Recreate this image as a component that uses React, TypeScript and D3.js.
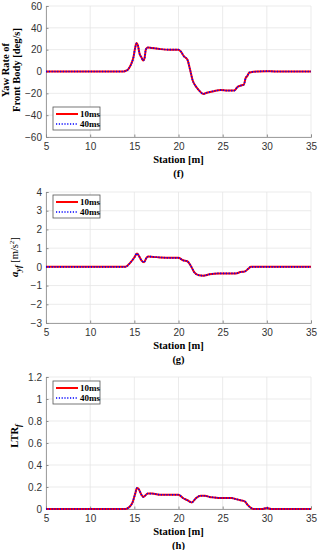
import React, { useRef, useEffect } from "react";
import * as d3 from "d3";

// Station [m] samples for each panel
const yawStation = [5, 13.8, 14, 14.3, 14.6, 14.9, 15.1, 15.25, 15.4, 15.6, 15.8, 16.0, 16.15, 16.3, 16.5, 17, 17.5, 18, 19, 20, 20.3, 20.6, 21, 21.3, 21.6, 22, 22.4, 22.8, 23.2, 24, 24.8, 25.5, 26.3, 26.7, 27, 27.4, 27.6, 27.8, 28, 28.3, 29, 30, 31, 35];
const yaw10 = [0, 0, 0.5, 2, 6, 13, 22, 26, 24, 16, 13, 10, 12, 20, 22, 21.5, 21, 20.5, 20, 20, 18, 14, 11, 2, -8, -14, -18, -20.5, -19.5, -18, -17, -17.5, -17.5, -14, -13, -12, -6, -4, -1, -0.5, 0, 0.3, 0, 0];
const yaw40 = [0, 0, 0.5, 2, 6, 13, 22, 25.5, 24, 16, 13, 10, 12, 20, 22, 21.5, 21, 20.5, 20, 20, 18, 14, 11, 2, -8, -14, -18, -20.5, -19.5, -18, -17, -17.5, -17.5, -14, -13, -12, -6, -4, -1, -0.5, 0, 0.3, 0, 0];

const accStation = [5, 14, 14.5, 15, 15.3, 15.5, 15.8, 16.1, 16.4, 16.6, 17.5, 19, 20, 20.5, 21, 21.4, 21.8, 22.3, 22.8, 23.5, 24.5, 25.5, 26.5, 27, 27.5, 27.9, 28.2, 30, 35];
const acc10 = [0, 0, 0.2, 0.5, 0.72, 0.6, 0.35, 0.25, 0.5, 0.55, 0.52, 0.48, 0.48, 0.35, 0.3, 0.05, -0.3, -0.45, -0.47, -0.4, -0.35, -0.35, -0.35, -0.28, -0.25, -0.1, 0, 0, 0];
const acc40 = [0, 0, 0.2, 0.5, 0.71, 0.6, 0.35, 0.25, 0.5, 0.55, 0.52, 0.48, 0.48, 0.35, 0.3, 0.05, -0.3, -0.45, -0.47, -0.4, -0.35, -0.35, -0.35, -0.28, -0.25, -0.1, 0, 0, 0];

const ltrStation = [5, 14, 14.3, 14.8, 15.1, 15.3, 15.5, 15.8, 16, 16.2, 16.5, 17, 18, 19, 20, 20.5, 21, 21.5, 22, 22.5, 23, 23.5, 24, 25, 26, 26.5, 27, 27.5, 27.8, 28.2, 28.5, 29.5, 30, 30.5, 35];
const ltr10 = [0, 0, 0.01, 0.06, 0.14, 0.19, 0.18, 0.13, 0.11, 0.12, 0.14, 0.14, 0.13, 0.13, 0.13, 0.1, 0.08, 0.06, 0.1, 0.12, 0.12, 0.11, 0.105, 0.1, 0.1, 0.09, 0.08, 0.07, 0.04, 0.01, 0, 0, 0.01, 0, 0];
const ltr40 = [0, 0, 0.01, 0.06, 0.14, 0.19, 0.18, 0.13, 0.11, 0.12, 0.14, 0.14, 0.13, 0.13, 0.13, 0.1, 0.08, 0.06, 0.1, 0.12, 0.12, 0.11, 0.105, 0.1, 0.1, 0.09, 0.08, 0.07, 0.04, 0.01, 0, 0, 0.01, 0, 0];

const xTicks = [5, 10, 15, 20, 25, 30, 35];
const yawTicks = [-60, -40, -20, 0, 20, 40, 60];
const accTicks = [-3, -2, -1, 0, 1, 2, 3, 4];
const ltrTicks = [0, 0.2, 0.4, 0.6, 0.8, 1, 1.2];
const seriesNames = ["10ms", "40ms"];

const serif = "'Liberation Serif', 'Times New Roman', serif";
const sans = "'Liberation Sans', Arial, sans-serif";

type Panel = {
  top: number;
  bottom: number;
  station: number[];
  s10: number[];
  s40: number[];
  yTicks: number[];
  caption: string;
  legendTop: number;
  yLabel: (g: d3.Selection<SVGTextElement, unknown, null, undefined>) => void;
  yLabelX: number;
  yLabelY: number;
};

const App: React.FC = () => {
  const ref = useRef<SVGSVGElement | null>(null);

  useEffect(() => {
    if (!ref.current) return;
    const svg = d3.select(ref.current);
    svg.selectAll("*").remove();

    const left = 46;
    const right = 311;
    const x = d3.scaleLinear().domain([5, 35]).range([left, right]);

    const panels: Panel[] = [
      {
        top: 6, bottom: 137, station: yawStation, s10: yaw10, s40: yaw40, yTicks: yawTicks,
        caption: "(f)", legendTop: 107, yLabelX: 11, yLabelY: 70,
        yLabel: (t) => {
          t.append("tspan").attr("x", 0).attr("dy", "-0.15em").text("Yaw Rate of");
          t.append("tspan").attr("x", 0).attr("dy", "1.0em").text("Front Body [deg/s]");
        },
      },
      {
        top: 192, bottom: 323, station: accStation, s10: acc10, s40: acc40, yTicks: accTicks,
        caption: "(g)", legendTop: 195, yLabelX: 18, yLabelY: 257,
        yLabel: (t) => {
          t.append("tspan").attr("font-style", "italic").attr("font-weight", "bold").text("a");
          t.append("tspan").attr("font-style", "italic").attr("font-size", 8).attr("dy", 3).text("yf");
          t.append("tspan").attr("dy", -3).attr("font-weight", "normal").text(" [m/s");
          t.append("tspan").attr("font-size", 7).attr("dy", -4).attr("font-weight", "normal").text("2");
          t.append("tspan").attr("dy", 4).attr("font-weight", "normal").text("]");
        },
      },
      {
        top: 377, bottom: 509, station: ltrStation, s10: ltr10, s40: ltr40, yTicks: ltrTicks,
        caption: "(h)", legendTop: 381, yLabelX: 18, yLabelY: 436,
        yLabel: (t) => {
          t.append("tspan").text("LTR");
          t.append("tspan").attr("font-size", 8).attr("font-style", "italic").attr("dy", 3).text("f");
        },
      },
    ];

    panels.forEach((p) => {
      const y = d3
        .scaleLinear()
        .domain([p.yTicks[0], p.yTicks[p.yTicks.length - 1]])
        .range([p.bottom, p.top]);
      const g = svg.append("g");

      // grid
      g.selectAll(".gx").data(xTicks).enter().append("line")
        .attr("x1", (d) => x(d)).attr("x2", (d) => x(d))
        .attr("y1", p.top).attr("y2", p.bottom)
        .attr("stroke", "#e6e6e6").attr("stroke-width", 0.8);
      g.selectAll(".gy").data(p.yTicks).enter().append("line")
        .attr("x1", left).attr("x2", right)
        .attr("y1", (d) => y(d)).attr("y2", (d) => y(d))
        .attr("stroke", "#e6e6e6").attr("stroke-width", 0.8);

      // axes
      const xAxis = g.append("g").attr("transform", `translate(0,${p.bottom})`)
        .call(d3.axisBottom(x).tickValues(xTicks).tickSize(-2.5).tickPadding(6).tickFormat(d3.format("d")));
      const yAxis = g.append("g").attr("transform", `translate(${left},0)`)
        .call(d3.axisLeft(y).tickValues(p.yTicks).tickSize(-2.5).tickPadding(4)
          .tickFormat((d) => (+d < 0 ? "\u2212" : "") + d3.format("~g")(Math.abs(+d))));
      [xAxis, yAxis].forEach((a) => {
        a.select(".domain").attr("stroke", "#8c8c8c").attr("stroke-width", 0.8);
        a.selectAll(".tick line").attr("stroke", "#8c8c8c");
        a.selectAll("text").attr("font-family", sans).attr("font-size", 10).attr("fill", "#333");
      });

      // lines
      const line = d3.line<number>()
        .x((_, i) => x(p.station[i]))
        .y((d) => y(d))
        .curve(d3.curveMonotoneX);
      g.append("path").datum(p.s10).attr("d", line)
        .attr("fill", "none").attr("stroke", "#ff0000").attr("stroke-width", 2);
      g.append("path").datum(p.s40).attr("d", line)
        .attr("fill", "none").attr("stroke", "#0000ff").attr("stroke-width", 1.6)
        .attr("stroke-dasharray", "1.2,1.6");

      // legend
      const lg = g.append("g").attr("transform", `translate(53,${p.legendTop})`);
      lg.append("rect").attr("width", 47).attr("height", 23)
        .attr("fill", "#fff").attr("stroke", "#555").attr("stroke-width", 0.8);
      seriesNames.forEach((name, i) => {
        const ly = 7 + i * 10;
        lg.append("line").attr("x1", 3).attr("x2", 25).attr("y1", ly).attr("y2", ly)
          .attr("stroke", i === 0 ? "#ff0000" : "#0000ff")
          .attr("stroke-width", i === 0 ? 2 : 1.6)
          .attr("stroke-dasharray", i === 0 ? null : "1.2,1.6");
        lg.append("text").attr("x", 27).attr("y", ly + 3)
          .attr("font-family", serif).attr("font-weight", "bold").attr("font-size", 9)
          .text(name);
      });

      // x label + caption
      g.append("text").attr("x", (left + right) / 2).attr("y", p.bottom + 26)
        .attr("text-anchor", "middle").attr("font-family", serif)
        .attr("font-weight", "bold").attr("font-size", 10.5).text("Station [m]");
      g.append("text").attr("x", (left + right) / 2).attr("y", p.bottom + 40)
        .attr("text-anchor", "middle").attr("font-family", serif)
        .attr("font-weight", "bold").attr("font-size", 10.5).text(p.caption);

      // y label
      const t = g.append("text")
        .attr("transform", `translate(${p.yLabelX},${p.yLabelY}) rotate(-90)`)
        .attr("text-anchor", "middle").attr("font-family", serif)
        .attr("font-weight", "bold").attr("font-size", 10.5);
      p.yLabel(t);
    });
  }, []);

  return (
    <svg
      ref={ref}
      width={318}
      height={550}
      style={{ position: "absolute", left: 0, top: 0, background: "#fff" }}
    />
  );
};

export default App;
